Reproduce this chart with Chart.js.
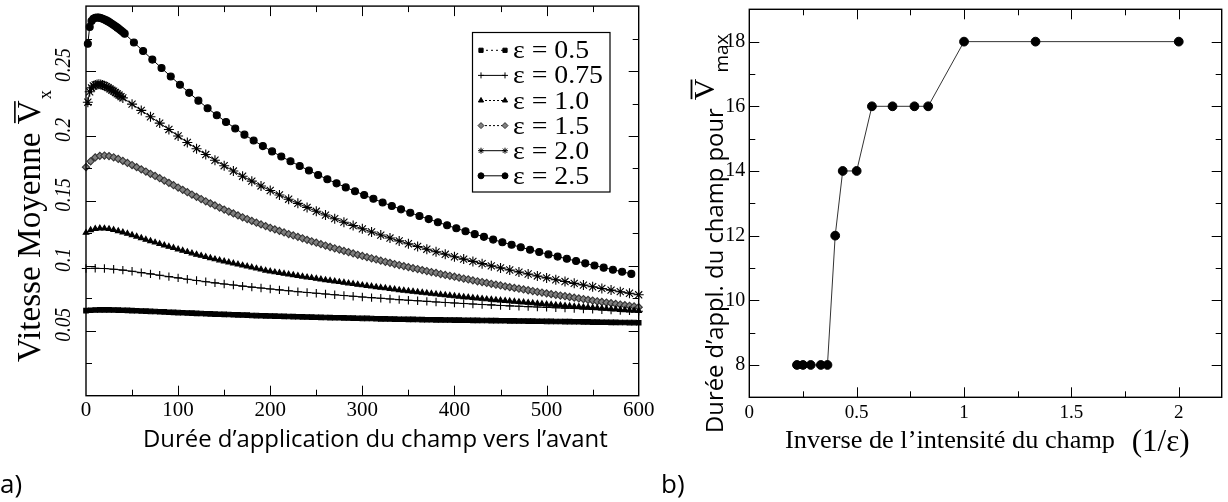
<!DOCTYPE html>
<html>
<head>
<meta charset="utf-8">
<script src="https://cdn.jsdelivr.net/npm/chart.js@4.4.1/dist/chart.umd.min.js"></script>
<style>
  html, body { margin: 0; padding: 0; background: #fff; }
  body { width: 1228px; height: 502px; position: relative; overflow: hidden; }
  .panel { position: absolute; top: 0; height: 502px; }
  #panelA { left: 0; width: 660px; }
  #panelB { left: 660px; width: 568px; }
</style>
</head>
<body>
<div class="panel" id="panelA"><canvas id="chartA"></canvas></div>
<div class="panel" id="panelB"><canvas id="chartB"></canvas></div>
<script>
"use strict";

// ---- panel a) : mean velocity vs. duration of the forward field ----
const epsLabels = ['ε = 0.5', 'ε = 0.75', 'ε = 1.0', 'ε = 1.5', 'ε = 2.0', 'ε = 2.5'];

const timeFine = [
    0, 5, 10, 15, 20, 25, 30, 35, 40, 45,
    50, 55, 60, 65, 70, 75, 80, 85, 90, 95,
    100, 105, 110, 115, 120, 125, 130, 135, 140, 145,
    150, 155, 160, 165, 170, 175, 180, 185, 190, 195,
    200, 205, 210, 215, 220, 225, 230, 235, 240, 245,
    250, 255, 260, 265, 270, 275, 280, 285, 290, 295,
    300, 305, 310, 315, 320, 325, 330, 335, 340, 345,
    350, 355, 360, 365, 370, 375, 380, 385, 390, 395,
    400, 405, 410, 415, 420, 425, 430, 435, 440, 445,
    450, 455, 460, 465, 470, 475, 480, 485, 490, 495,
    500, 505, 510, 515, 520, 525, 530, 535, 540, 545,
    550, 555, 560, 565, 570, 575, 580, 585, 590, 595,
    600
];
const timeCoarse = [
    0, 10, 20, 30, 40, 50, 60, 70, 80, 90,
    100, 110, 120, 130, 140, 150, 160, 170, 180, 190,
    200, 210, 220, 230, 240, 250, 260, 270, 280, 290,
    300, 310, 320, 330, 340, 350, 360, 370, 380, 390,
    400, 410, 420, 430, 440, 450, 460, 470, 480, 490,
    500, 510, 520, 530, 540, 550, 560, 570, 580, 590,
    600
];
const timeStar = [
    2, 4, 6, 8, 10, 12, 14, 16, 18, 20,
    22, 24, 26, 28, 30, 32, 34, 36, 38, 40,
    50, 60, 70, 80, 90, 100, 110, 120, 130, 140,
    150, 160, 170, 180, 190, 200, 210, 220, 230, 240,
    250, 260, 270, 280, 290, 300, 310, 320, 330, 340,
    350, 360, 370, 380, 390, 400, 410, 420, 430, 440,
    450, 460, 470, 480, 490, 500, 510, 520, 530, 540,
    550, 560, 570, 580, 590, 600
];
const timeCircle = [
    2, 4, 6, 8, 10, 12, 14, 16, 18, 20,
    22, 24, 26, 28, 30, 32, 34, 36, 38, 40, 42,
    52, 62, 72, 82, 92, 102, 112, 122, 132, 142,
    152, 162, 172, 182, 192, 202, 212, 222, 232, 242,
    252, 262, 272, 282, 292, 302, 312, 322, 332, 342,
    352, 362, 372, 382, 392, 402, 412, 422, 432, 442,
    452, 462, 472, 482, 492, 502, 512, 522, 532, 542,
    552, 562, 572, 582, 592
];

const vEps05 = [
    0.0655, 0.0658, 0.0660, 0.0661, 0.0661, 0.0661, 0.0660, 0.0659, 0.0658, 0.0657,
    0.0655, 0.0654, 0.0652, 0.0651, 0.0649, 0.0648, 0.0646, 0.0645, 0.0643, 0.0642,
    0.0640, 0.0639, 0.0637, 0.0636, 0.0634, 0.0633, 0.0631, 0.0630, 0.0628, 0.0627,
    0.0626, 0.0625, 0.0623, 0.0622, 0.0621, 0.0620, 0.0618, 0.0617, 0.0616, 0.0615,
    0.0614, 0.0613, 0.0612, 0.0611, 0.0610, 0.0609, 0.0608, 0.0607, 0.0606, 0.0605,
    0.0604, 0.0603, 0.0602, 0.0601, 0.0600, 0.0600, 0.0599, 0.0598, 0.0597, 0.0596,
    0.0595, 0.0595, 0.0594, 0.0593, 0.0592, 0.0592, 0.0591, 0.0590, 0.0589, 0.0589,
    0.0588, 0.0588, 0.0587, 0.0586, 0.0585, 0.0585, 0.0584, 0.0584, 0.0583, 0.0583,
    0.0582, 0.0582, 0.0581, 0.0581, 0.0580, 0.0580, 0.0579, 0.0579, 0.0578, 0.0578,
    0.0577, 0.0577, 0.0576, 0.0576, 0.0575, 0.0575, 0.0574, 0.0574, 0.0573, 0.0573,
    0.0572, 0.0572, 0.0571, 0.0571, 0.0570, 0.0570, 0.0569, 0.0569, 0.0568, 0.0568,
    0.0567, 0.0567, 0.0566, 0.0566, 0.0565, 0.0565, 0.0564, 0.0564, 0.0563, 0.0563,
    0.0562
];
const vEps075 = [
    0.0980, 0.0981, 0.0979, 0.0974, 0.0967, 0.0958, 0.0948, 0.0938, 0.0927, 0.0917,
    0.0907, 0.0897, 0.0887, 0.0878, 0.0869, 0.0860, 0.0852, 0.0844, 0.0836, 0.0829,
    0.0822, 0.0815, 0.0808, 0.0801, 0.0795, 0.0789, 0.0783, 0.0777, 0.0771, 0.0766,
    0.0760, 0.0755, 0.0750, 0.0745, 0.0740, 0.0735, 0.0731, 0.0726, 0.0722, 0.0718,
    0.0714, 0.0710, 0.0706, 0.0702, 0.0699, 0.0695, 0.0692, 0.0689, 0.0686, 0.0683,
    0.0680, 0.0677, 0.0674, 0.0671, 0.0668, 0.0665, 0.0662, 0.0659, 0.0656, 0.0653,
    0.0650
];
const vEps10 = [
    0.1255, 0.1276, 0.1285, 0.1289, 0.1288, 0.1284, 0.1277, 0.1268, 0.1258, 0.1248,
    0.1237, 0.1226, 0.1214, 0.1202, 0.1191, 0.1180, 0.1169, 0.1158, 0.1148, 0.1138,
    0.1127, 0.1117, 0.1107, 0.1097, 0.1087, 0.1078, 0.1069, 0.1060, 0.1051, 0.1043,
    0.1035, 0.1027, 0.1019, 0.1011, 0.1003, 0.0996, 0.0988, 0.0980, 0.0972, 0.0964,
    0.0957, 0.0951, 0.0946, 0.0940, 0.0934, 0.0929, 0.0923, 0.0918, 0.0912, 0.0907,
    0.0902, 0.0896, 0.0891, 0.0886, 0.0881, 0.0876, 0.0871, 0.0866, 0.0861, 0.0856,
    0.0851, 0.0846, 0.0842, 0.0837, 0.0832, 0.0828, 0.0823, 0.0819, 0.0814, 0.0810,
    0.0806, 0.0802, 0.0798, 0.0794, 0.0790, 0.0786, 0.0782, 0.0778, 0.0775, 0.0771,
    0.0767, 0.0764, 0.0760, 0.0757, 0.0753, 0.0750, 0.0747, 0.0743, 0.0740, 0.0737,
    0.0734, 0.0731, 0.0728, 0.0725, 0.0722, 0.0719, 0.0716, 0.0713, 0.0710, 0.0707,
    0.0704, 0.0701, 0.0698, 0.0696, 0.0693, 0.0690, 0.0687, 0.0685, 0.0682, 0.0680,
    0.0677, 0.0675, 0.0672, 0.0670, 0.0667, 0.0665, 0.0662, 0.0660, 0.0658, 0.0655,
    0.0653
];
const vEps15 = [
    0.1760, 0.1805, 0.1835, 0.1847, 0.1849, 0.1845, 0.1836, 0.1823, 0.1808, 0.1792,
    0.1776, 0.1760, 0.1743, 0.1726, 0.1709, 0.1692, 0.1675, 0.1657, 0.1639, 0.1621,
    0.1603, 0.1585, 0.1567, 0.1549, 0.1531, 0.1514, 0.1497, 0.1481, 0.1465, 0.1449,
    0.1433, 0.1418, 0.1403, 0.1388, 0.1374, 0.1360, 0.1346, 0.1332, 0.1319, 0.1306,
    0.1293, 0.1281, 0.1269, 0.1257, 0.1245, 0.1234, 0.1223, 0.1212, 0.1200, 0.1189,
    0.1178, 0.1167, 0.1156, 0.1145, 0.1135, 0.1125, 0.1115, 0.1105, 0.1095, 0.1085,
    0.1076, 0.1067, 0.1058, 0.1049, 0.1040, 0.1031, 0.1023, 0.1014, 0.1006, 0.0998,
    0.0990, 0.0982, 0.0975, 0.0967, 0.0960, 0.0952, 0.0945, 0.0937, 0.0930, 0.0923,
    0.0916, 0.0909, 0.0902, 0.0895, 0.0888, 0.0881, 0.0875, 0.0868, 0.0862, 0.0855,
    0.0849, 0.0842, 0.0836, 0.0830, 0.0824, 0.0818, 0.0812, 0.0806, 0.0800, 0.0794,
    0.0788, 0.0782, 0.0777, 0.0771, 0.0766, 0.0760, 0.0755, 0.0749, 0.0744, 0.0738,
    0.0733, 0.0727, 0.0722, 0.0717, 0.0712, 0.0707, 0.0702, 0.0697, 0.0692, 0.0687,
    0.0682
];
const vEps20 = [
    0.2260, 0.2340, 0.2370, 0.2385, 0.2393, 0.2397, 0.2398, 0.2396, 0.2392, 0.2387,
    0.2380, 0.2372, 0.2363, 0.2353, 0.2345, 0.2335, 0.2324, 0.2314, 0.2303, 0.2293,
    0.2245, 0.2197, 0.2148, 0.2099, 0.2050, 0.2000, 0.1950, 0.1902, 0.1857, 0.1813,
    0.1771, 0.1730, 0.1690, 0.1652, 0.1615, 0.1580, 0.1546, 0.1513, 0.1481, 0.1450,
    0.1420, 0.1391, 0.1363, 0.1336, 0.1310, 0.1285, 0.1261, 0.1237, 0.1214, 0.1192,
    0.1170, 0.1149, 0.1128, 0.1108, 0.1089, 0.1070, 0.1052, 0.1034, 0.1017, 0.1000,
    0.0984, 0.0968, 0.0952, 0.0937, 0.0922, 0.0907, 0.0893, 0.0879, 0.0865, 0.0852,
    0.0839, 0.0826, 0.0813, 0.0801, 0.0789, 0.0777
];
const vEps25 = [
    0.2710, 0.2840, 0.2885, 0.2902, 0.2910, 0.2912, 0.2911, 0.2908, 0.2903, 0.2897,
    0.2890, 0.2882, 0.2873, 0.2864, 0.2854, 0.2844, 0.2834, 0.2823, 0.2812, 0.2800, 0.2788,
    0.2720, 0.2654, 0.2588, 0.2523, 0.2458, 0.2394, 0.2332, 0.2272, 0.2214, 0.2160,
    0.2108, 0.2058, 0.2010, 0.1965, 0.1922, 0.1881, 0.1842, 0.1805, 0.1769, 0.1734,
    0.1700, 0.1667, 0.1635, 0.1604, 0.1574, 0.1545, 0.1516, 0.1488, 0.1461, 0.1435,
    0.1409, 0.1384, 0.1360, 0.1336, 0.1312, 0.1289, 0.1266, 0.1244, 0.1223, 0.1202,
    0.1182, 0.1162, 0.1143, 0.1124, 0.1106, 0.1088, 0.1071, 0.1054, 0.1037, 0.1019,
    0.1002, 0.0986, 0.0970, 0.0954, 0.0938
];

// ---- panel b) : duration giving the max velocity vs. 1/eps ----
const inverseEps = [0.222, 0.25, 0.286, 0.333, 0.364, 0.4, 0.435, 0.5, 0.571, 0.667, 0.769, 0.833, 1.0, 1.333, 2.0];
const durationMax = [8, 8, 8, 8, 8, 12, 14, 14, 16, 16, 16, 16, 18, 18, 18];

const SERIF = "'Liberation Serif', 'Times New Roman', serif";
const SANS = "'Open Sans', 'Liberation Sans', sans-serif";

function isMajor(v, step) {
    const r = v / step;
    return Math.abs(r - Math.round(r)) < 1e-6;
}

// font size (px) that makes text exactly `width` wide
function fitFont(ctx, text, family, style, width) {
    ctx.font = style + ' 100px ' + family;
    return 100 * width / ctx.measureText(text).width;
}

// draw text at a given font size, squeezed horizontally to `width`
function fillSqueezed(ctx, text, x, y, font, width) {
    ctx.save();
    ctx.font = font;
    const w = ctx.measureText(text).width;
    ctx.translate(x, y);
    ctx.scale(width / w, 1);
    ctx.fillText(text, 0, 0);
    ctx.restore();
}

function toPoints(xs, ys) {
    return xs.map((x, i) => ({ x: x, y: ys[i] }));
}

// closed frame + inward tick marks on all four sides
function boxAndTicks(cfg) {
    return {
        id: 'boxAndTicks',
        afterDatasetsDraw(chart) {
            const ctx = chart.ctx, a = chart.chartArea;
            const xs = chart.scales.x, ys = chart.scales.y;
            ctx.save();
            ctx.strokeStyle = '#000';
            ctx.lineWidth = 1;
            ctx.beginPath();
            xs.ticks.forEach(t => {
                if (t.value <= xs.min || t.value >= xs.max) return;
                const p = Math.round(xs.getPixelForValue(t.value)) + 0.5;
                const len = isMajor(t.value, cfg.xMajor) ? cfg.major : cfg.minor;
                ctx.moveTo(p, a.bottom); ctx.lineTo(p, a.bottom - len);
                ctx.moveTo(p, a.top); ctx.lineTo(p, a.top + len);
            });
            ys.ticks.forEach(t => {
                if (t.value <= ys.min || t.value >= ys.max) return;
                const p = Math.round(ys.getPixelForValue(t.value)) + 0.5;
                const len = isMajor(t.value, cfg.yMajor) ? cfg.major : cfg.minor;
                ctx.moveTo(a.left, p); ctx.lineTo(a.left + len, p);
                ctx.moveTo(a.right, p); ctx.lineTo(a.right - len, p);
            });
            ctx.stroke();
            ctx.lineWidth = 1.4;
            ctx.strokeRect(a.left, a.top, a.right - a.left, a.bottom - a.top);
            ctx.restore();
        }
    };
}

function lineDataset(label, xs, ys, style, radius, fill, border, dash) {
    return {
        label: label,
        data: toPoints(xs, ys),
        borderColor: '#000',
        borderWidth: 1,
        borderDash: dash,
        pointStyle: style,
        pointRadius: radius,
        pointBackgroundColor: fill,
        pointBorderColor: border,
        pointBorderWidth: 1.1,
        tension: 0,
        clip: false
    };
}

const datasetsA = [
    lineDataset(epsLabels[0], timeFine, vEps05, 'rect', 3.2, '#000', '#000', [2, 3]),
    lineDataset(epsLabels[1], timeCoarse, vEps075, 'cross', 4.2, '#000', '#000', []),
    lineDataset(epsLabels[2], timeFine, vEps10, 'triangle', 3.2, '#000', '#000', [2, 2]),
    lineDataset(epsLabels[3], timeFine, vEps15, 'rectRot', 3.6, '#808080', '#333', [2, 2]),
    lineDataset(epsLabels[4], timeStar, vEps20, 'star', 5, '#000', '#000', []),
    lineDataset(epsLabels[5], timeCircle, vEps25, 'circle', 3.5, '#000', '#000', [])
];

const decorA = {
    id: 'decorA',
    afterDraw(chart) {
        const ctx = chart.ctx;
        const ys = chart.scales.y;
        ctx.save();
        ctx.fillStyle = '#000';

        // rotated italic y tick labels
        ys.ticks.forEach(t => {
            if (t.value <= ys.min || t.value >= ys.max || !isMajor(t.value, 0.05)) return;
            const p = ys.getPixelForValue(t.value);
            const txt = String(Math.round(t.value * 100) / 100);
            ctx.save();
            ctx.translate(64, p - 6);
            ctx.rotate(-Math.PI / 2);
            ctx.font = 'italic 23px ' + SERIF;
            ctx.textAlign = 'left';
            ctx.textBaseline = 'middle';
            const w = ctx.measureText(txt).width;
            fillSqueezed(ctx, txt, -w * 0.42, 0, 'italic 23px ' + SERIF, w * 0.84);
            ctx.restore();
        });

        // x title
        const xTitle = 'Durée d’application du champ vers l’avant';
        let size = fitFont(ctx, xTitle, SANS, '', 465);
        ctx.font = size + 'px ' + SANS;
        ctx.textAlign = 'left';
        ctx.textBaseline = 'alphabetic';
        ctx.fillText(xTitle, 143, 447);

        // y title: Vitesse Moyenne V̄x
        ctx.save();
        ctx.translate(40, 362);
        ctx.rotate(-Math.PI / 2);
        size = fitFont(ctx, 'Vitesse Moyenne V', SERIF, '', 262);
        ctx.font = size + 'px ' + SERIF;
        const head = 'Vitesse Moyenne ';
        ctx.fillText(head, 0, 0);
        const vx = ctx.measureText(head).width;
        ctx.fillText('V', vx, 0);
        const vw = ctx.measureText('V').width;
        ctx.fillRect(vx + 1, -size * 0.78, vw - 2, 1.6);
        ctx.font = (size * 0.55) + 'px ' + SERIF;
        ctx.fillText('x', vx + vw + 1, size * 0.33);
        ctx.restore();

        // legend box
        ctx.fillStyle = '#fff';
        ctx.fillRect(472, 32, 138, 160);
        ctx.strokeStyle = '#000';
        ctx.lineWidth = 1.2;
        ctx.strokeRect(472.5, 32.5, 137.5, 159.5);
        const lfont = '25px ' + SERIF;
        ctx.font = lfont;
        const wide = ctx.measureText('ε = 0.75').width;
        const squeeze = 90 / wide;
        chart.data.datasets.forEach((ds, i) => {
            const base = 58.3 + i * 25.1;
            const cy = base - 8;
            ctx.strokeStyle = '#000';
            ctx.lineWidth = 1;
            ctx.setLineDash(ds.borderDash || []);
            ctx.beginPath();
            ctx.moveTo(481, cy); ctx.lineTo(505, cy);
            ctx.stroke();
            ctx.setLineDash([]);
            [481, 505].forEach(px => {
                ctx.fillStyle = ds.pointBackgroundColor;
                ctx.strokeStyle = ds.pointBorderColor;
                ctx.lineWidth = 1;
                Chart.helpers.drawPoint(ctx, { pointStyle: ds.pointStyle, radius: Math.min(ds.pointRadius, 3), borderWidth: 1, rotation: 0 }, px, cy);
            });
            ctx.fillStyle = '#000';
            ctx.font = lfont;
            fillSqueezed(ctx, ds.label, 513, base, lfont, ctx.measureText(ds.label).width * squeeze);
        });

        // panel letter
        ctx.fillStyle = '#000';
        ctx.font = '26px ' + SANS;
        ctx.fillText('a)', 0, 493);
        ctx.restore();
    }
};

new Chart(document.getElementById('chartA'), {
    type: 'line',
    data: { datasets: datasetsA },
    options: {
        animation: false,
        responsive: true,
        maintainAspectRatio: false,
        events: [],
        layout: { padding: { left: 0, top: 5, right: 21.3, bottom: 0 } },
        plugins: { legend: { display: false }, tooltip: { enabled: false } },
        scales: {
            x: {
                type: 'linear', min: 0, max: 600,
                grid: { display: false, drawTicks: false },
                border: { display: false },
                ticks: {
                    stepSize: 50, autoSkip: false, maxRotation: 0, padding: 2, color: '#000',
                    font: { family: SERIF, size: 21 },
                    callback: v => isMajor(v, 100) ? String(v) : ''
                },
                afterFit: s => { s.height = 106.3; s.paddingLeft = 0; s.paddingRight = 0; }
            },
            y: {
                type: 'linear', min: 0, max: 0.3,
                grid: { display: false, drawTicks: false },
                border: { display: false },
                ticks: { stepSize: 0.025, display: false },
                afterFit: s => { s.width = 86; s.paddingTop = 0; s.paddingBottom = 0; }
            }
        }
    },
    plugins: [boxAndTicks({ xMajor: 100, yMajor: 0.05, major: 10, minor: 6 }), decorA]
});

const decorB = {
    id: 'decorB',
    afterDraw(chart) {
        const ctx = chart.ctx;
        ctx.save();
        ctx.fillStyle = '#000';
        ctx.textAlign = 'left';
        ctx.textBaseline = 'alphabetic';

        // x title
        const xTitle = 'Inverse de l’intensité du champ';
        fillSqueezed(ctx, xTitle, 125, 448, '26px ' + SERIF, 330);
        fillSqueezed(ctx, '(1/ε)', 471.7, 451, '31px ' + SERIF, 58);

        // y title: Durée d'appl. du champ pour V̄max
        ctx.save();
        ctx.translate(63, 433);
        ctx.rotate(-Math.PI / 2);
        const head = 'Durée d’appl. du champ pour';
        const size = fitFont(ctx, head, SANS, '', 325);
        ctx.font = size + 'px ' + SANS;
        ctx.fillText(head, 0, 0);
        const vx = ctx.measureText(head).width + 8;
        ctx.font = '30px ' + SERIF;
        ctx.fillText('V', vx, -9);
        const vw = ctx.measureText('V').width;
        ctx.fillRect(vx + 1, -9 - 30 * 0.78, vw - 2, 1.8);
        ctx.font = '19px ' + SANS;
        ctx.fillText('max', vx + vw + 6, 5);
        ctx.restore();

        ctx.font = '26px ' + SANS;
        ctx.fillText('b)', 1, 493);
        ctx.restore();
    }
};

new Chart(document.getElementById('chartB'), {
    type: 'scatter',
    data: {
        datasets: [{
            data: toPoints(inverseEps, durationMax),
            showLine: true,
            borderColor: '#333',
            borderWidth: 1,
            pointStyle: 'circle',
            pointRadius: 4.4,
            pointBackgroundColor: '#000',
            pointBorderColor: '#000',
            tension: 0,
            clip: false
        }]
    },
    options: {
        animation: false,
        responsive: true,
        maintainAspectRatio: false,
        events: [],
        layout: { padding: { left: 0, top: 9.3, right: 6.3, bottom: 0 } },
        plugins: { legend: { display: false }, tooltip: { enabled: false } },
        scales: {
            x: {
                type: 'linear', min: 0, max: 2.2,
                grid: { display: false, drawTicks: false },
                border: { display: false },
                ticks: {
                    stepSize: 0.25, includeBounds: false, autoSkip: false, maxRotation: 0, padding: 4, color: '#000',
                    font: { family: SERIF, size: 19 },
                    callback: v => isMajor(v, 0.5) ? String(v) : ''
                },
                afterFit: s => { s.height = 104.7; s.paddingLeft = 0; s.paddingRight = 0; }
            },
            y: {
                type: 'linear', min: 7, max: 19,
                grid: { display: false, drawTicks: false },
                border: { display: false },
                ticks: {
                    stepSize: 1, autoSkip: false, padding: 4, color: '#000',
                    font: { family: SERIF, size: 20 },
                    callback: v => (v % 2 === 0) ? String(v) : ''
                },
                afterFit: s => { s.width = 89.3; s.paddingTop = 0; s.paddingBottom = 0; }
            }
        }
    },
    plugins: [boxAndTicks({ xMajor: 0.5, yMajor: 2, major: 10, minor: 6 }), decorB]
});
</script>
</body>
</html>
